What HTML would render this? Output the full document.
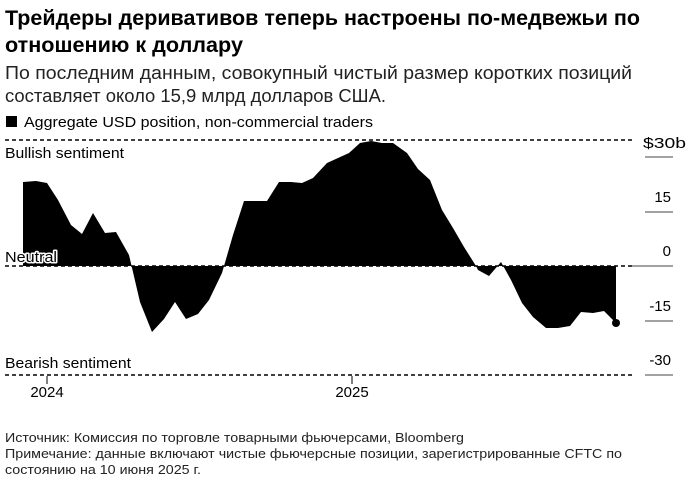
<!DOCTYPE html>
<html><head><meta charset="utf-8"><style>
html,body{margin:0;padding:0;background:#fff;}
svg{display:block;font-family:"Liberation Sans",sans-serif;}
</style></head><body>
<svg width="696" height="501" viewBox="0 0 696 501">
<g fill="#000">
<text x="5" y="25" font-size="21" font-weight="bold" textLength="635" lengthAdjust="spacingAndGlyphs">Трейдеры деривативов теперь настроены по-медвежьи по</text>
<text x="5" y="52" font-size="21" font-weight="bold" textLength="238" lengthAdjust="spacingAndGlyphs">отношению к доллару</text>
<text x="5" y="79" font-size="18" fill="#222" textLength="627" lengthAdjust="spacingAndGlyphs">По последним данным, совокупный чистый размер коротких позиций</text>
<text x="5" y="102" font-size="18" fill="#222" textLength="381" lengthAdjust="spacingAndGlyphs">составляет около 15,9 млрд долларов США.</text>
<rect x="6" y="116" width="11" height="11"/>
<text x="24" y="127" font-size="15" textLength="349" lengthAdjust="spacingAndGlyphs">Aggregate USD position, non-commercial traders</text>
</g>
<polygon fill="#000" points="23,266 23,182 36,181 47,183 58,200 71,225 82,234 93,213 105,233 116,232 129,255 140,302 152,332 164,319 175,302 186,319 198,314 209,300 222,273 233,235 244,201 267,201 279,182 291,182 302,183 313,178 327,163 338,158 349,153 360,143 371,141 382,143 393,143 407,153 418,169 430,180 442,210 453,228 464,247 476,266 478,270 489,276 501,262 511,280 522,303 533,317 546,328 558,328 570,326 581,312 593,313 604,311 616,323 616,266"/>
<circle cx="616" cy="323" r="4" fill="#000"/>
<g stroke="#000" stroke-width="1.5" stroke-dasharray="4,3">
<line x1="5" y1="140" x2="632" y2="140"/>
<line x1="5" y1="266" x2="632" y2="266"/>
<line x1="5" y1="375" x2="632" y2="375"/>
</g>
<g stroke="#444" stroke-width="1">
<line x1="645" y1="157" x2="673" y2="157"/>
<line x1="645" y1="212" x2="673" y2="212"/>
<line x1="632" y1="266" x2="673" y2="266"/>
<line x1="645" y1="321" x2="673" y2="321"/>
<line x1="645" y1="375" x2="673" y2="375"/>
<line x1="47" y1="376" x2="47" y2="384" stroke="#000"/>
<line x1="352" y1="376" x2="352" y2="384" stroke="#000"/>
</g>
<g font-size="15" fill="#000">
<text x="5" y="158" textLength="119" lengthAdjust="spacingAndGlyphs">Bullish sentiment</text>
<text x="5" y="262" textLength="52" lengthAdjust="spacingAndGlyphs" stroke="#fff" stroke-width="3" paint-order="stroke" stroke-linejoin="round">Neutral</text>
<text x="5" y="368" textLength="126" lengthAdjust="spacingAndGlyphs">Bearish sentiment</text>
<text x="643" y="148" textLength="43" lengthAdjust="spacingAndGlyphs">$30b</text>
<text x="671" y="202" text-anchor="end">15</text>
<text x="671" y="256" text-anchor="end">0</text>
<text x="671" y="311" text-anchor="end">-15</text>
<text x="671" y="365" text-anchor="end">-30</text>
<text x="47" y="397" text-anchor="middle">2024</text>
<text x="352" y="397" text-anchor="middle">2025</text>
</g>
<g font-size="13" fill="#222">
<text x="5" y="442" textLength="459" lengthAdjust="spacingAndGlyphs">Источник: Комиссия по торговле товарными фьючерсами, Bloomberg</text>
<text x="5" y="458" textLength="617" lengthAdjust="spacingAndGlyphs">Примечание: данные включают чистые фьючерсные позиции, зарегистрированные CFTC по</text>
<text x="5" y="474" textLength="196" lengthAdjust="spacingAndGlyphs">состоянию на 10 июня 2025 г.</text>
</g>
</svg>
</body></html>
